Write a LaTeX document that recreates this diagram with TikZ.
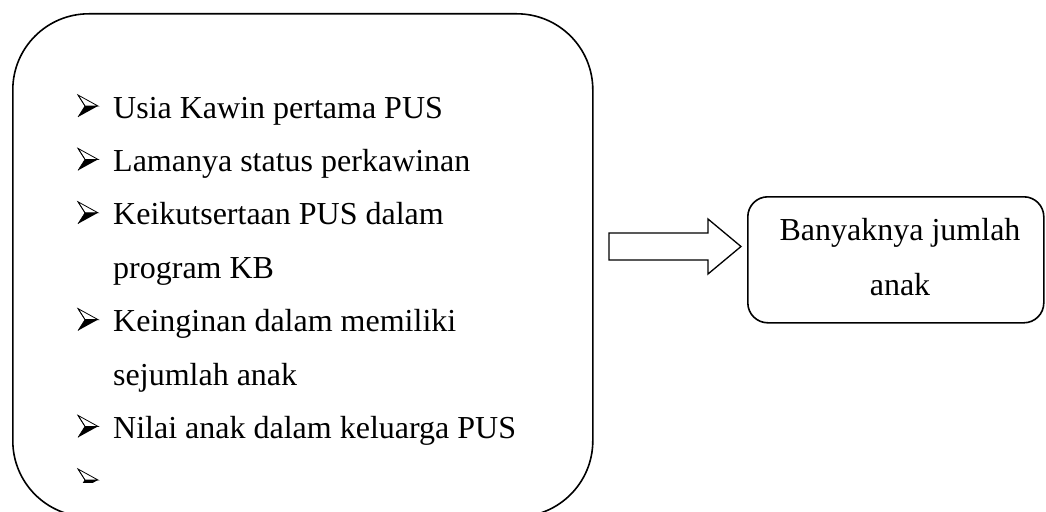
\documentclass[tikz,border=0pt]{standalone}
\usepackage{fontspec}
\setmainfont{Liberation Serif}
\begin{document}
\begin{tikzpicture}[x=1pt,y=-1pt,
  box/.style={draw,line width=1.6pt},
  txt/.style={anchor=base west,inner sep=0pt,font=\fontsize{32}{38}\selectfont},
  blockarrow/.style={draw,line width=1.3pt,fill=white,line join=miter},
  arrowbullet/.pic={
    \draw[line width=0.8pt,fill=white,line join=miter] (0,-11) -- (20,0) -- (7,0) -- cycle;
    \fill[black] (7,0) -- (20,0) -- (0,11) -- cycle;
    \draw[line width=0.6pt] (0,-11) -- (7,0) -- (0,11);
  }]
\useasboundingbox (0,0) rectangle (1046,511);
\clip (0,0) rectangle (1046,511);
\node[box,rounded corners=76pt,minimum width=580pt,minimum height=503pt,anchor=north west,inner sep=0pt] (L) at (12,13) {};
\node[box,rounded corners=20pt,minimum width=296pt,minimum height=126pt,anchor=north west,inner sep=0pt] (R) at (747,196) {};
\node[txt,anchor=base] (r1) at (900,240) {Banyaknya jumlah};
\node[txt,anchor=base] (r2) at (900,295) {anak};
% list
\pic at (78,106) {arrowbullet}; \node[txt] (t1) at (113,118) {Usia Kawin pertama PUS};
\pic at (78,159.4) {arrowbullet}; \node[txt] (t2) at (113,171.4) {Lamanya status perkawinan};
\pic at (78,212.8) {arrowbullet}; \node[txt] (t3) at (113,224.8) {Keikutsertaan PUS dalam};
\node[txt] (t3b) at (113,278.2) {program KB};
\pic at (78,319.6) {arrowbullet}; \node[txt] (t4) at (113,331.6) {Keinginan dalam memiliki};
\node[txt] (t4b) at (113,385) {sejumlah anak};
\pic at (78,426.4) {arrowbullet}; \node[txt] (t5) at (113,438.4) {Nilai anak dalam keluarga PUS};
\begin{scope}
\clip (60,465) rectangle (110,482);
\pic at (78,480) {arrowbullet};
\end{scope}
% block arrow
\draw[blockarrow] (609,233) -- (708,233) -- (708,219) -- (741,246.5) -- (708,274) -- (708,260) -- (609,260) -- cycle;
\end{tikzpicture}
\end{document}
